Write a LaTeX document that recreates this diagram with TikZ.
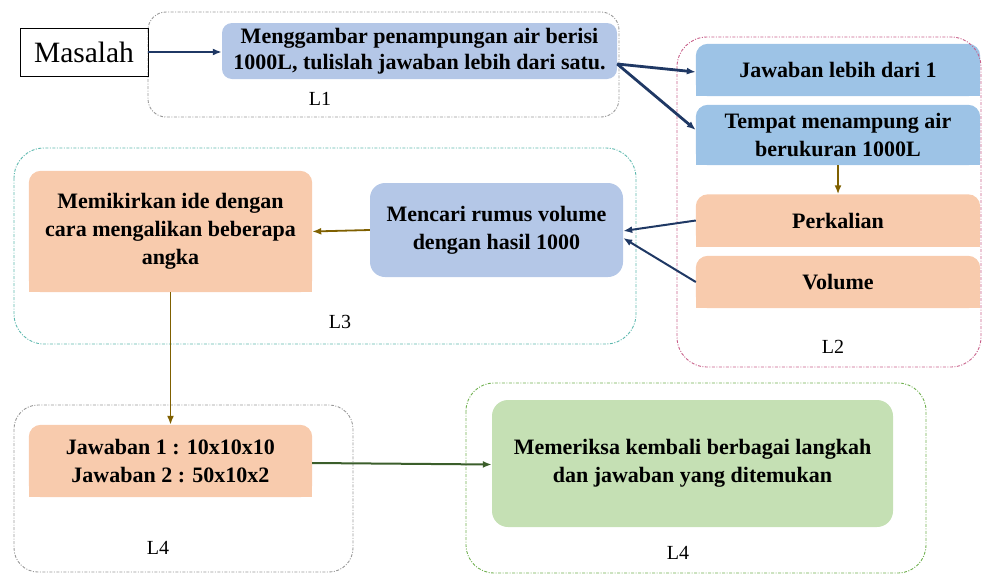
\documentclass[tikz,border=0pt]{standalone}
\usepackage{fontspec}
\setmainfont{Liberation Serif}
\usetikzlibrary{arrows.meta,backgrounds}

\definecolor{navy}{HTML}{1F3864}
\definecolor{olive}{HTML}{7F6000}
\definecolor{darkgreen}{HTML}{3B5E2B}
\definecolor{paleblue}{HTML}{B4C7E7}
\definecolor{skyblue}{HTML}{9DC3E6}
\definecolor{peach}{HTML}{F8CBAD}
\definecolor{palegreen}{HTML}{C5E0B4}
\definecolor{grpgray}{HTML}{999999}
\definecolor{grppink}{HTML}{C8608A}
\definecolor{grpteal}{HTML}{5DB8AE}
\definecolor{grpgreen}{HTML}{70B050}

\tikzset{
  grp/.style={line width=0.9pt, rounded corners=#1,
    dash pattern=on 3pt off 1.5pt on 1pt off 1.5pt},
  boxtxt/.style={inner sep=0pt, align=center, text=black,
    font=\fontsize{22pt}{28pt}\selectfont\bfseries},
  lbl/.style={inner sep=0pt, font=\fontsize{20pt}{24pt}\selectfont},
  navyarrow/.style={draw=navy, line width=2pt, -{Latex[length=9pt,width=7pt]}},
  olivearrow/.style={draw=olive, line width=1.8pt, -{Latex[length=9pt,width=7pt]}},
  greenarrow/.style={draw=darkgreen, line width=2pt, -{Latex[length=9pt,width=7pt]}},
}

\begin{document}
\begin{tikzpicture}[x=1pt,y=-1pt]
\useasboundingbox (0,0) rectangle (988,576);

% dashed group frames
\draw[grp=18pt, draw=grpgray]  (148,12)  rectangle (619,117);
\draw[grp=30pt, draw=grppink]  (677,37)  rectangle (981,367);
\draw[grp=30pt, draw=grpteal]  (14,148)  rectangle (636,344);
\draw[grp=24pt, draw=grpgray]  (14,405)  rectangle (353,572);
\draw[grp=28pt, draw=grpgreen] (466,383) rectangle (926,573);

% group labels
\node[lbl] (l1) at (320,99) {L1};
\node[lbl] (l2) at (833,347) {L2};
\node[lbl] (l3) at (340,322) {L3};
\node[lbl] (l4a) at (158,548) {L4};
\node[lbl] (l4b) at (678,553) {L4};

% starting box
\node[draw=black, line width=0.7pt, inner sep=0pt, minimum width=128pt, minimum height=48pt,
      font=\fontsize{29.5pt}{32pt}\selectfont] (mas) at (84,52) {Masalah};

% fully rounded boxes
\node[boxtxt, fill=paleblue, rounded corners=10pt, minimum width=395pt, minimum height=56pt,
      font=\fontsize{22pt}{26pt}\selectfont\bfseries] (b1) at (419.5,51)
  {Menggambar penampungan air berisi\\1000L, tulislah jawaban lebih dari satu.};
\node[boxtxt, fill=paleblue, rounded corners=15pt, minimum width=253pt, minimum height=94pt]
  (cari) at (496.5,230) {Mencari rumus volume\\dengan hasil 1000};
\node[boxtxt, fill=palegreen, rounded corners=16pt, minimum width=401pt, minimum height=127pt]
  (cek) at (692.5,463.5) {Memeriksa kembali berbagai langkah\\dan jawaban yang ditemukan};

% boxes with rounded top corners (filled on the background layer)
\node[boxtxt, minimum width=284pt, minimum height=52pt] (jaw) at (838,70) {Jawaban lebih dari 1};
\node[boxtxt, minimum width=284pt, minimum height=60pt] (tem) at (838,135) {Tempat menampung air\\berukuran 1000L};
\node[boxtxt, minimum width=284pt, minimum height=52pt] (per) at (838,220.5) {Perkalian};
\node[boxtxt, minimum width=284pt, minimum height=52pt] (vol) at (838,282) {Volume};
\node[boxtxt, minimum width=283pt, minimum height=121pt] (ide) at (170.5,231.5)
  {Memikirkan ide dengan\\cara mengalikan beberapa\\angka};
\node[boxtxt, minimum width=283pt, minimum height=72pt] (ans) at (170.5,461)
  {Jawaban 1 : 10x10x10\\Jawaban 2 : 50x10x2};

\begin{scope}[on background layer]
  \foreach \n/\c in {jaw/skyblue, tem/skyblue, per/peach, vol/peach, ide/peach, ans/peach} {
    \fill[\c, rounded corners=12pt] (\n.south west) rectangle (\n.north east);
    \fill[\c] (\n.south west) rectangle (\n.east);
  }
\end{scope}

% connectors
\draw[navyarrow] (mas.east) -- (b1.west |- mas.east);
\draw[navyarrow, line width=2.8pt] ([yshift=-13pt]b1.east) -- ([yshift=-2pt]jaw.west);
\draw[navyarrow, line width=2.8pt] ([yshift=-13pt]b1.east) -- ([yshift=5pt]tem.west);
\draw[olivearrow] (tem.south) -- (per.north);
\draw[navyarrow] (per.west) -- ([yshift=-1pt]cari.east);
\draw[navyarrow] (vol.west) -- ([yshift=-8pt]cari.east);
\draw[olivearrow] (cari.west) -- (ide.east);
\draw[olivearrow] (ide.south) -- (ans.north);
\draw[greenarrow] ([yshift=-2pt]ans.east) -- ([yshift=-1pt]cek.west);

\end{tikzpicture}
\end{document}
